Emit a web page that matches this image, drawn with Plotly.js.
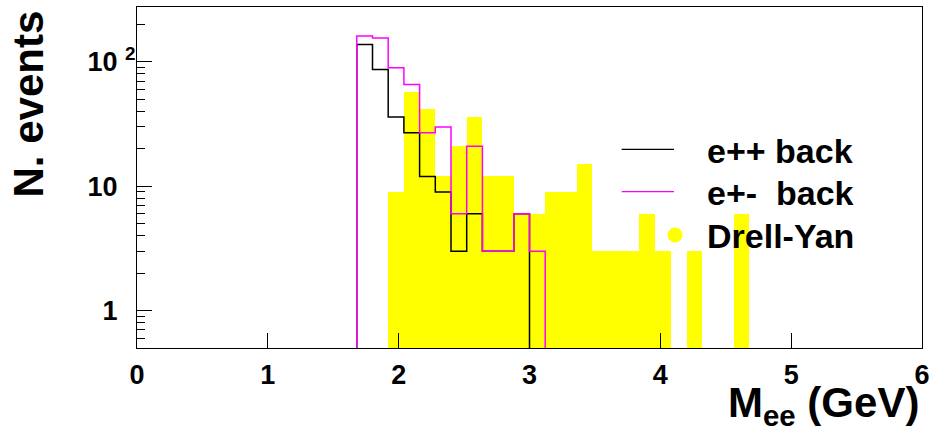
<!DOCTYPE html>
<html>
<head>
<meta charset="utf-8">
<script src="https://cdn.plot.ly/plotly-3.0.1.min.js"></script>
<style>html,body{margin:0;padding:0;background:#fff;}#chart{width:931px;height:437px;}</style>
</head>
<body>
<div id="chart"></div>
<script>
// ---- data ----
const binWidth = 0.12;
const ePPStart = 1.68;                 // e++ background, first bin low edge
const ePPCounts = [138, 87, 36, 27, 12, 9, 3, 6, 3, 3, 6];
const ePMStart = 1.68;                 // e+- background, first bin low edge
const ePMCounts = [162, 156, 90, 66, 27, 30, 6, 21, 3, 3, 6, 3];
const dyStart = 1.92;                  // Drell-Yan, first bin low edge
const dyCounts = [9, 57, 42, 12, 21, 36, 12, 12, 6, 6, 9, 9, 15, 3, 3, 3, 6, 3, 0, 3, 0, 0, 6];
const xTicks = [0, 1, 2, 3, 4, 5, 6];
const yTicks = [1, 10, 100];
const yTickText = ["1", "10", "10"];
const legendLabels = ["e++ back", "e+-&nbsp; back", "Drell-Yan"];
const xTitle = "M<sub>ee</sub> (GeV)";
const yTitle = "N. events";

// ---- layout constants ----
const yMin = 0.5, yMaxLog = 2.442;
const FONT = "Liberation Sans, Arial, Helvetica, sans-serif";
const W = 931, H = 437, L = 137, R = 9, T = 7, B = 89;
const pw = W - L - R, ph = H - T - B;
const px = x => (x - L) / pw;
const py = y => (H - B - y) / ph;

function stepLine(start, counts) {
  const xs = [], ys = [];
  xs.push(start); ys.push(yMin);
  counts.forEach((c, i) => {
    const lo = +(start + i * binWidth).toFixed(4), hi = +(start + (i + 1) * binWidth).toFixed(4);
    const v = c > 0 ? c : yMin;
    xs.push(lo, hi); ys.push(v, v);
  });
  xs.push(+(start + counts.length * binWidth).toFixed(4)); ys.push(yMin);
  return {xs, ys};
}

const dyX = dyCounts.map((c, i) => +(dyStart + (i + 0.5) * binWidth).toFixed(4));
const dyY = dyCounts.map(c => c > 0 ? c : null);
const blk = stepLine(ePPStart, ePPCounts);
const mag = stepLine(ePMStart, ePMCounts);

const traces = [
  {type: "bar", x: dyX, y: dyY, width: binWidth, marker: {color: "#ffff00", line: {width: 0}},
   showlegend: false, hoverinfo: "skip"},
  {type: "scatter", mode: "lines", x: blk.xs, y: blk.ys, line: {color: "#000000", width: 1.5},
   showlegend: false, hoverinfo: "skip"},
  {type: "scatter", mode: "lines", x: mag.xs, y: mag.ys, line: {color: "#ff00ff", width: 1.5},
   showlegend: false, hoverinfo: "skip"}
];

const minorTicks = [];
[0.1, 1, 10, 100].forEach(d => { for (let m = 2; m <= 9; m++) { const v = +(d * m).toPrecision(3); if (Math.log10(v) > Math.log10(yMin) - 1e-9 && Math.log10(v) < yMaxLog) minorTicks.push(v); } });

const transparent2 = "<span style='color:rgba(0,0,0,0)'><sup>2</sup></span>";
const yText = yTickText.map((t, i) => i === 2 ? t + " <sup>2</sup>" : t + " " + transparent2);

const tickFont = {family: FONT, size: 27, weight: "bold", color: "#000"};
const legFont = {family: FONT, size: 34, weight: "bold", color: "#000"};
const layout = {
  width: W, height: H,
  margin: {l: L, r: R, t: T, b: B, pad: 0},
  paper_bgcolor: "#fff", plot_bgcolor: "#fff",
  bargap: 0, barmode: "overlay",
  xaxis: {range: [0, 6], tickvals: xTicks, ticktext: xTicks.map(String), ticks: "inside", ticklen: 15,
          tickwidth: 1, tickcolor: "#000", showline: true, mirror: true, linecolor: "#000", linewidth: 1,
          showgrid: false, zeroline: false, tickfont: tickFont, ticklabelstandoff: 3},
  yaxis: {type: "log", range: [Math.log10(yMin), yMaxLog], tickvals: yTicks, ticktext: yText,
          ticks: "inside", ticklen: 15, tickwidth: 1, tickcolor: "#000",
          minor: {tickmode: "array", tickvals: minorTicks, ticks: "inside", ticklen: 8, tickwidth: 1, tickcolor: "#000"},
          showline: true, mirror: true, linecolor: "#000", linewidth: 1, showgrid: false, zeroline: false,
          tickfont: tickFont, ticklabelstandoff: -5},
  shapes: [
    {type: "line", xref: "paper", yref: "paper", x0: px(621.7), x1: px(674), y0: py(149.3), y1: py(149.3), line: {color: "#000", width: 1.2}},
    {type: "line", xref: "paper", yref: "paper", x0: px(621.7), x1: px(674), y0: py(191.7), y1: py(191.7), line: {color: "#ff00ff", width: 1.2}},
    {type: "circle", xref: "paper", yref: "paper", x0: px(667.5), x1: px(682.5), y0: py(242.5), y1: py(227.5), fillcolor: "#ffff00", line: {width: 0}}
  ],
  annotations: [
    {text: legendLabels[0], xref: "paper", yref: "paper", x: px(705), y: py(151.5), xanchor: "left", yanchor: "middle", showarrow: false, font: legFont},
    {text: legendLabels[1], xref: "paper", yref: "paper", x: px(705), y: py(193), xanchor: "left", yanchor: "middle", showarrow: false, font: legFont},
    {text: legendLabels[2], xref: "paper", yref: "paper", x: px(705), y: py(236), xanchor: "left", yanchor: "middle", showarrow: false, font: legFont},
    {text: yTitle, xref: "paper", yref: "paper", x: px(28), y: py(9), xanchor: "center", yanchor: "top", textangle: -90, showarrow: false, font: {family: FONT, size: 42, weight: "bold", color: "#000"}},
    {text: xTitle, xref: "paper", yref: "paper", x: px(921), y: py(377), xanchor: "right", yanchor: "top", showarrow: false, font: {family: FONT, size: 42, weight: "bold", color: "#000"}}
  ]
};

Plotly.newPlot("chart", traces, layout, {staticPlot: true, displayModeBar: false});
</script>
</body>
</html>
